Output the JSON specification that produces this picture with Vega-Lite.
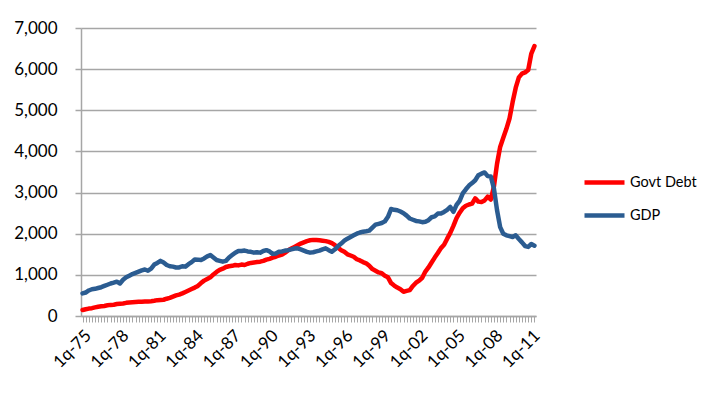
{
  "$schema": "https://vega.github.io/schema/vega-lite/v6.json",
  "autosize": "none",
  "width": 455,
  "height": 288,
  "padding": {"left": 81, "top": 28, "right": 192, "bottom": 79},
  "background": "white",
  "config": {"font": "Lato", "view": {"stroke": null}},
  "data": {"values": [
    {"q":"1q-75","Govt Debt":145,"GDP":550},{"q":"2q-75","Govt Debt":165,"GDP":570},{"q":"3q-75","Govt Debt":180,"GDP":620},{"q":"4q-75","Govt Debt":190,"GDP":650},
    {"q":"1q-76","Govt Debt":210,"GDP":660},{"q":"2q-76","Govt Debt":225,"GDP":680},{"q":"3q-76","Govt Debt":235,"GDP":700},{"q":"4q-76","Govt Debt":245,"GDP":730},
    {"q":"1q-77","Govt Debt":260,"GDP":760},{"q":"2q-77","Govt Debt":270,"GDP":790},{"q":"3q-77","Govt Debt":275,"GDP":810},{"q":"4q-77","Govt Debt":290,"GDP":835},
    {"q":"1q-78","Govt Debt":300,"GDP":790},{"q":"2q-78","Govt Debt":305,"GDP":880},{"q":"3q-78","Govt Debt":320,"GDP":940},{"q":"4q-78","Govt Debt":330,"GDP":980},
    {"q":"1q-79","Govt Debt":335,"GDP":1020},{"q":"2q-79","Govt Debt":340,"GDP":1050},{"q":"3q-79","Govt Debt":345,"GDP":1080},{"q":"4q-79","Govt Debt":345,"GDP":1110},
    {"q":"1q-80","Govt Debt":350,"GDP":1130},{"q":"2q-80","Govt Debt":355,"GDP":1100},{"q":"3q-80","Govt Debt":360,"GDP":1150},{"q":"4q-80","Govt Debt":370,"GDP":1250},
    {"q":"1q-81","Govt Debt":385,"GDP":1290},{"q":"2q-81","Govt Debt":390,"GDP":1340},{"q":"3q-81","Govt Debt":395,"GDP":1300},{"q":"4q-81","Govt Debt":420,"GDP":1240},
    {"q":"1q-82","Govt Debt":440,"GDP":1210},{"q":"2q-82","Govt Debt":470,"GDP":1200},{"q":"3q-82","Govt Debt":500,"GDP":1180},{"q":"4q-82","Govt Debt":520,"GDP":1180},
    {"q":"1q-83","Govt Debt":550,"GDP":1210},{"q":"2q-83","Govt Debt":585,"GDP":1200},{"q":"3q-83","Govt Debt":620,"GDP":1260},{"q":"4q-83","Govt Debt":655,"GDP":1310},
    {"q":"1q-84","Govt Debt":690,"GDP":1375},{"q":"2q-84","Govt Debt":730,"GDP":1370},{"q":"3q-84","Govt Debt":800,"GDP":1360},{"q":"4q-84","Govt Debt":860,"GDP":1400},
    {"q":"1q-85","Govt Debt":900,"GDP":1450},{"q":"2q-85","Govt Debt":940,"GDP":1480},{"q":"3q-85","Govt Debt":1010,"GDP":1420},{"q":"4q-85","Govt Debt":1070,"GDP":1360},
    {"q":"1q-86","Govt Debt":1120,"GDP":1340},{"q":"2q-86","Govt Debt":1150,"GDP":1320},{"q":"3q-86","Govt Debt":1190,"GDP":1340},{"q":"4q-86","Govt Debt":1210,"GDP":1420},
    {"q":"1q-87","Govt Debt":1220,"GDP":1480},{"q":"2q-87","Govt Debt":1240,"GDP":1540},{"q":"3q-87","Govt Debt":1230,"GDP":1580},{"q":"4q-87","Govt Debt":1250,"GDP":1580},
    {"q":"1q-88","Govt Debt":1240,"GDP":1590},{"q":"2q-88","Govt Debt":1270,"GDP":1570},{"q":"3q-88","Govt Debt":1290,"GDP":1560},{"q":"4q-88","Govt Debt":1300,"GDP":1540},
    {"q":"1q-89","Govt Debt":1310,"GDP":1550},{"q":"2q-89","Govt Debt":1320,"GDP":1540},{"q":"3q-89","Govt Debt":1340,"GDP":1580},{"q":"4q-89","Govt Debt":1370,"GDP":1600},
    {"q":"1q-90","Govt Debt":1390,"GDP":1570},{"q":"2q-90","Govt Debt":1420,"GDP":1510},{"q":"3q-90","Govt Debt":1440,"GDP":1520},{"q":"4q-90","Govt Debt":1470,"GDP":1560},
    {"q":"1q-91","Govt Debt":1490,"GDP":1570},{"q":"2q-91","Govt Debt":1540,"GDP":1590},{"q":"3q-91","Govt Debt":1600,"GDP":1600},{"q":"4q-91","Govt Debt":1640,"GDP":1620},
    {"q":"1q-92","Govt Debt":1680,"GDP":1640},{"q":"2q-92","Govt Debt":1720,"GDP":1645},{"q":"3q-92","Govt Debt":1760,"GDP":1620},{"q":"4q-92","Govt Debt":1790,"GDP":1590},
    {"q":"1q-93","Govt Debt":1820,"GDP":1560},{"q":"2q-93","Govt Debt":1840,"GDP":1540},{"q":"3q-93","Govt Debt":1850,"GDP":1550},{"q":"4q-93","Govt Debt":1845,"GDP":1570},
    {"q":"1q-94","Govt Debt":1840,"GDP":1590},{"q":"2q-94","Govt Debt":1830,"GDP":1620},{"q":"3q-94","Govt Debt":1820,"GDP":1645},{"q":"4q-94","Govt Debt":1800,"GDP":1600},
    {"q":"1q-95","Govt Debt":1770,"GDP":1560},{"q":"2q-95","Govt Debt":1720,"GDP":1620},{"q":"3q-95","Govt Debt":1660,"GDP":1700},{"q":"4q-95","Govt Debt":1600,"GDP":1760},
    {"q":"1q-96","Govt Debt":1560,"GDP":1830},{"q":"2q-96","Govt Debt":1500,"GDP":1880},{"q":"3q-96","Govt Debt":1470,"GDP":1920},{"q":"4q-96","Govt Debt":1440,"GDP":1960},
    {"q":"1q-97","Govt Debt":1380,"GDP":2000},{"q":"2q-97","Govt Debt":1350,"GDP":2030},{"q":"3q-97","Govt Debt":1310,"GDP":2050},{"q":"4q-97","Govt Debt":1280,"GDP":2060},
    {"q":"1q-98","Govt Debt":1220,"GDP":2075},{"q":"2q-98","Govt Debt":1140,"GDP":2150},{"q":"3q-98","Govt Debt":1100,"GDP":2220},{"q":"4q-98","Govt Debt":1060,"GDP":2240},
    {"q":"1q-99","Govt Debt":1040,"GDP":2260},{"q":"2q-99","Govt Debt":980,"GDP":2300},{"q":"3q-99","Govt Debt":940,"GDP":2410},{"q":"4q-99","Govt Debt":800,"GDP":2600},
    {"q":"1q-00","Govt Debt":740,"GDP":2580},{"q":"2q-00","Govt Debt":690,"GDP":2570},{"q":"3q-00","Govt Debt":650,"GDP":2540},{"q":"4q-00","Govt Debt":590,"GDP":2500},
    {"q":"1q-01","Govt Debt":610,"GDP":2440},{"q":"2q-01","Govt Debt":630,"GDP":2370},{"q":"3q-01","Govt Debt":730,"GDP":2340},{"q":"4q-01","Govt Debt":810,"GDP":2310},
    {"q":"1q-02","Govt Debt":860,"GDP":2300},{"q":"2q-02","Govt Debt":930,"GDP":2280},{"q":"3q-02","Govt Debt":1080,"GDP":2290},{"q":"4q-02","Govt Debt":1180,"GDP":2330},
    {"q":"1q-03","Govt Debt":1300,"GDP":2400},{"q":"2q-03","Govt Debt":1420,"GDP":2420},{"q":"3q-03","Govt Debt":1530,"GDP":2490},{"q":"4q-03","Govt Debt":1650,"GDP":2490},
    {"q":"1q-04","Govt Debt":1730,"GDP":2530},{"q":"2q-04","Govt Debt":1880,"GDP":2580},{"q":"3q-04","Govt Debt":2020,"GDP":2650},{"q":"4q-04","Govt Debt":2190,"GDP":2530},
    {"q":"1q-05","Govt Debt":2380,"GDP":2700},{"q":"2q-05","Govt Debt":2510,"GDP":2800},{"q":"3q-05","Govt Debt":2620,"GDP":2980},{"q":"4q-05","Govt Debt":2680,"GDP":3080},
    {"q":"1q-06","Govt Debt":2710,"GDP":3170},{"q":"2q-06","Govt Debt":2730,"GDP":3230},{"q":"3q-06","Govt Debt":2860,"GDP":3300},{"q":"4q-06","Govt Debt":2780,"GDP":3420},
    {"q":"1q-07","Govt Debt":2770,"GDP":3460},{"q":"2q-07","Govt Debt":2810,"GDP":3490},{"q":"3q-07","Govt Debt":2900,"GDP":3400},{"q":"4q-07","Govt Debt":2830,"GDP":3390},
    {"q":"1q-08","Govt Debt":3150,"GDP":3100},{"q":"2q-08","Govt Debt":3700,"GDP":2570},{"q":"3q-08","Govt Debt":4110,"GDP":2160},{"q":"4q-08","Govt Debt":4330,"GDP":2000},
    {"q":"1q-09","Govt Debt":4550,"GDP":1960},{"q":"2q-09","Govt Debt":4800,"GDP":1940},{"q":"3q-09","Govt Debt":5200,"GDP":1920},{"q":"4q-09","Govt Debt":5550,"GDP":1960},
    {"q":"1q-10","Govt Debt":5800,"GDP":1870},{"q":"2q-10","Govt Debt":5890,"GDP":1790},{"q":"3q-10","Govt Debt":5920,"GDP":1700},{"q":"4q-10","Govt Debt":5980,"GDP":1680},
    {"q":"1q-11","Govt Debt":6380,"GDP":1750},{"q":"2q-11","Govt Debt":6560,"GDP":1710}
  ]},
  "transform": [{"fold": ["Govt Debt", "GDP"], "as": ["series", "value"]}],
  "mark": {"type": "line", "strokeWidth": 4.5, "strokeJoin": "round", "strokeCap": "round"},
  "encoding": {
    "x": {
      "field": "q", "type": "ordinal", "sort": null,
      "scale": {"padding": 0.5},
      "axis": {
        "title": null, "labelAngle": -45, "labelFontSize": 17, "labelColor": "#000000",
        "labelOverlap": false, "labelBound": false, "labelPadding": 5,
        "labelExpr": "indexof(['1q-75','1q-78','1q-81','1q-84','1q-87','1q-90','1q-93','1q-96','1q-99','1q-02','1q-05','1q-08','1q-11'], datum.value) >= 0 ? datum.value : ''",
        "domainColor": "#a6a6a6", "domainWidth": 1.5, "tickColor": "#a6a6a6", "tickSize": 6, "tickWidth": 1, "grid": false
      }
    },
    "y": {
      "field": "value", "type": "quantitative",
      "scale": {"domain": [0, 7000], "nice": false},
      "axis": {
        "title": null, "values": [0,1000,2000,3000,4000,5000,6000,7000], "format": ",d",
        "labelFontSize": 17, "labelColor": "#000000", "labelPadding": 18,
        "tickSize": 6, "tickColor": "#a6a6a6", "tickWidth": 1.5,
        "domainColor": "#a6a6a6", "domainWidth": 1.5,
        "grid": true, "gridColor": "#a6a6a6", "gridWidth": 1.5
      }
    },
    "color": {
      "field": "series", "type": "nominal",
      "scale": {"domain": ["Govt Debt", "GDP"], "range": ["#ff0000", "#2b5c91"]},
      "legend": {
        "title": null, "orient": "none", "legendX": 501, "legendY": 132,
        "symbolType": "stroke", "symbolSize": 1600, "symbolStrokeWidth": 4.5,
        "labelFontSize": 14.5, "labelColor": "#000000", "labelOffset": 3, "rowPadding": 1
      }
    }
  }
}
